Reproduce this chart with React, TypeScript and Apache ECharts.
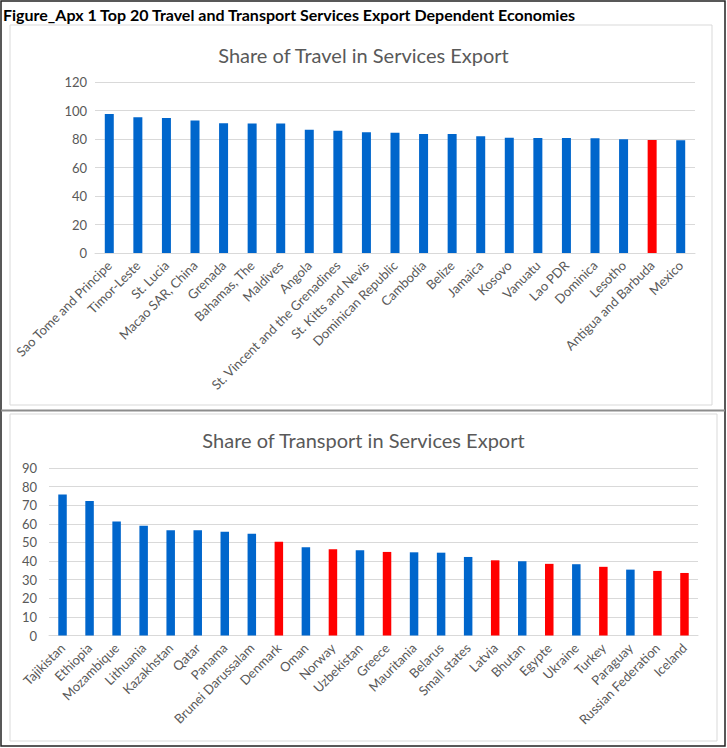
import React, { useEffect, useRef } from "react";
import * as echarts from "echarts";

const travelCategories = [
  "Sao Tome and Principe", "Timor-Leste", "St. Lucia", "Macao SAR, China", "Grenada",
  "Bahamas, The", "Maldives", "Angola", "St. Vincent and the Grenadines", "St. Kitts and Nevis",
  "Dominican Republic", "Cambodia", "Belize", "Jamaica", "Kosovo", "Vanuatu", "Lao PDR",
  "Dominica", "Lesotho", "Antigua and Barbuda", "Mexico",
];
const travelValues = [
  97.5, 95.2, 94.7, 92.9, 91.0, 90.8, 90.8, 86.5, 85.8, 84.7, 84.4, 83.5, 83.5, 81.9, 80.9,
  80.7, 80.7, 80.5, 79.8, 79.3, 79.1,
];
const travelHighlighted = ["Antigua and Barbuda"];

const transportCategories = [
  "Tajikistan", "Ethiopia", "Mozambique", "Lithuania", "Kazakhstan", "Qatar", "Panama",
  "Brunei Darussalam", "Denmark", "Oman", "Norway", "Uzbekistan", "Greece", "Mauritania",
  "Belarus", "Small states", "Latvia", "Bhutan", "Egypte", "Ukraine", "Turkey", "Paraguay",
  "Russian Federation", "Iceland",
];
const transportValues = [
  75.8, 72.3, 61.2, 59.0, 56.6, 56.5, 55.8, 54.7, 50.4, 47.4, 46.3, 45.8, 44.9, 44.7, 44.5,
  42.2, 40.4, 39.9, 38.5, 38.3, 36.9, 35.4, 34.7, 33.6,
];
const transportHighlighted = [
  "Denmark", "Norway", "Greece", "Latvia", "Egypte", "Turkey", "Russian Federation", "Iceland",
];

const travelTicks = { min: 0, max: 120, interval: 20 };
const transportTicks = { min: 0, max: 90, interval: 10 };

const BLUE = "#0066CC";
const RED = "#FF0000";
const FONT = "Lato, 'Open Sans', sans-serif";
const TXT = "#595959";

export default function App() {
  const ref = useRef<HTMLDivElement>(null);
  useEffect(() => {
    if (!ref.current) return;
    const chart = echarts.init(ref.current, null, { renderer: "svg" });
    const axisLabel = { color: TXT, fontFamily: FONT };
    const xAxisCommon = {
      type: "category" as const,
      axisTick: { show: false },
      axisLine: { lineStyle: { color: "#d9d9d9" } },
      axisLabel: { ...axisLabel, fontSize: 13, rotate: 45, interval: 0, margin: 10 },
    };
    const yAxisCommon = {
      type: "value" as const,
      axisLine: { show: false },
      axisTick: { show: false },
      splitLine: { lineStyle: { color: "#d9d9d9" } },
    };
    chart.setOption({
      animation: false,
      backgroundColor: "#ffffff",
      textStyle: { fontFamily: FONT },
      title: [
        {
          text: "Share of Travel in Services Export",
          left: "center",
          top: 40,
          textStyle: { color: TXT, fontSize: 20, fontWeight: "normal", fontFamily: FONT },
        },
        {
          text: "Share of Transport in Services Export",
          left: "center",
          top: 425,
          textStyle: { color: TXT, fontSize: 20, fontWeight: "normal", fontFamily: FONT },
        },
      ],
      graphic: [
        {
          type: "rect",
          shape: { x: 1, y: 1, width: 724, height: 745 },
          style: { fill: "none", stroke: "#222", lineWidth: 1.5 },
          silent: true,
        },
        {
          type: "rect",
          shape: { x: 10, y: 25, width: 702, height: 380 },
          style: { fill: "none", stroke: "#d9d9d9", lineWidth: 1 },
          silent: true,
        },
        {
          type: "line",
          shape: { x1: 1, y1: 410.5, x2: 725, y2: 410.5 },
          style: { stroke: "#8c8c8c", lineWidth: 2 },
          silent: true,
        },
        {
          type: "rect",
          shape: { x: 10, y: 414, width: 707, height: 327 },
          style: { fill: "none", stroke: "#d9d9d9", lineWidth: 1 },
          silent: true,
        },
        {
          type: "text",
          x: 3,
          y: 14,
          style: {
            text: "Figure_Apx 1 Top 20 Travel and Transport Services Export Dependent Economies",
            fill: "#000",
            fontSize: 16,
            fontWeight: "bold",
            fontFamily: FONT,
            verticalAlign: "middle",
          },
          silent: true,
        },
      ],
      grid: [
        { left: 95, right: 32, top: 82, height: 171 },
        { left: 49, right: 29, top: 468, height: 167.5 },
      ],
      xAxis: [
        { ...xAxisCommon, gridIndex: 0, data: travelCategories },
        { ...xAxisCommon, gridIndex: 1, data: transportCategories },
      ],
      yAxis: [
        {
          ...yAxisCommon,
          gridIndex: 0,
          ...travelTicks,
          axisLabel: { ...axisLabel, fontSize: 13, margin: 8 },
        },
        {
          ...yAxisCommon,
          gridIndex: 1,
          ...transportTicks,
          axisLabel: { ...axisLabel, fontSize: 13, margin: 12 },
        },
      ],
      series: [
        {
          type: "bar",
          xAxisIndex: 0,
          yAxisIndex: 0,
          barWidth: 9,
          data: travelValues.map((v, i) => ({
            value: v,
            itemStyle: { color: travelHighlighted.includes(travelCategories[i]) ? RED : BLUE },
          })),
        },
        {
          type: "bar",
          xAxisIndex: 1,
          yAxisIndex: 1,
          barWidth: 8.5,
          data: transportValues.map((v, i) => ({
            value: v,
            itemStyle: {
              color: transportHighlighted.includes(transportCategories[i]) ? RED : BLUE,
            },
          })),
        },
      ],
    });
    return () => chart.dispose();
  }, []);
  return (
    <div
      ref={ref}
      style={{ position: "fixed", left: 0, top: 0, width: 727, height: 748 }}
    />
  );
}
